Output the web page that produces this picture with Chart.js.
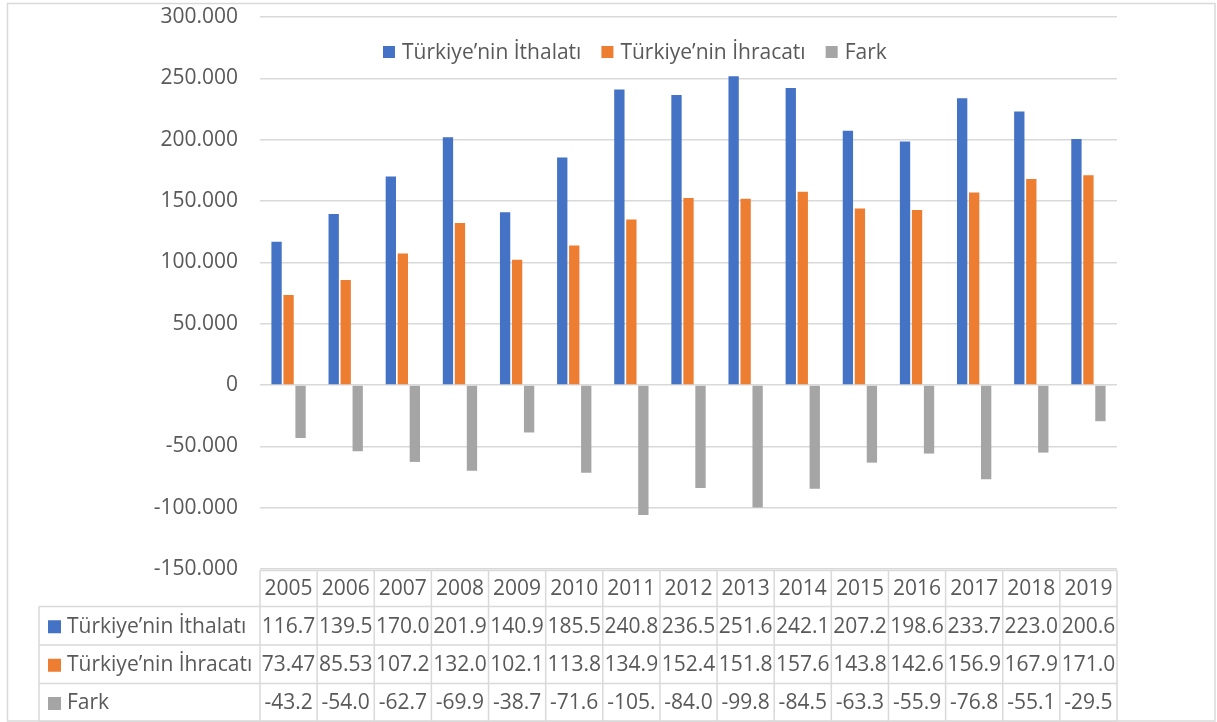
<!DOCTYPE html>
<html>
<head>
<meta charset="utf-8">
<script src="https://cdn.jsdelivr.net/npm/chart.js@4.4.1/dist/chart.umd.min.js"></script>
<style>
html,body{margin:0;padding:0;background:#fff;}
canvas{display:block;}
</style>
</head>
<body>
<canvas id="c" width="1217" height="722"></canvas>
<script>
const years = ['2005','2006','2007','2008','2009','2010','2011','2012','2013','2014','2015','2016','2017','2018','2019'];
const seriesNames = ['Türkiye’nin İthalatı','Türkiye’nin İhracatı','Fark'];
const imports = [116.7,139.5,170.0,201.9,140.9,185.5,240.8,236.5,251.6,242.1,207.2,198.6,233.7,223.0,200.6];
const exportsV = [73.47,85.53,107.2,132.0,102.1,113.8,134.9,152.4,151.8,157.6,143.8,142.6,156.9,167.9,171.0];
const diff = [-43.2,-54.0,-62.7,-69.9,-38.7,-71.6,-105.9,-84.0,-99.8,-84.5,-63.3,-55.9,-76.8,-55.1,-29.5];
const yMin = -150, yMax = 300, yStep = 50;
const colors = ['#4472C4','#ED7D31','#A5A5A5'];

const FONT = '"Open Sans", Roboto, sans-serif';
const FSIZE = 21;
const TXT = '#595959';
const LINE = '#d9d9d9';

function fmtAxis(v){ return v === 0 ? '0' : v.toFixed(3); }
function fmtCell(v){ return v.toFixed(3).slice(0,5); }

const framePlugin = {
  id:'frame',
  beforeDraw(chart){
    const c = chart.ctx;
    c.save();
    c.fillStyle = '#fff';
    c.fillRect(0,0,chart.width,chart.height);
    c.strokeStyle = LINE;
    c.lineWidth = 1.5;
    c.strokeRect(7.5,3.5,1207.5,717.5);
    c.restore();
  }
};

const legendPlugin = {
  id:'customLegend',
  afterDraw(chart){
    const c = chart.ctx, a = chart.chartArea;
    c.save();
    c.font = FSIZE + 'px ' + FONT;
    c.textBaseline = 'middle';
    c.textAlign = 'left';
    let x = a.left + 123;
    const y = a.top + 35;
    seriesNames.forEach((n,i)=>{
      c.fillStyle = colors[i];
      c.fillRect(x, y-6, 12, 12);
      x += 19;
      c.fillStyle = TXT;
      c.fillText(n, x, y+1);
      x += c.measureText(n).width + 20;
    });
    c.restore();
  }
};

const tablePlugin = {
  id:'dataTable',
  afterDraw(chart){
    const c = chart.ctx, a = chart.chartArea, xs = chart.scales.x;
    const n = years.length;
    const colW = (a.right - a.left) / n;
    const top = a.bottom + 1.5;
    const rows = [top, top+36, top+74.5, top+113, top+151];
    const tableLeft = 39;
    c.save();
    c.strokeStyle = LINE;
    c.lineWidth = 1.5;
    c.beginPath();
    c.moveTo(a.left, rows[0]); c.lineTo(a.right, rows[0]);
    for (let r=1;r<rows.length;r++){ c.moveTo(tableLeft, rows[r]); c.lineTo(a.right, rows[r]); }
    for (let i=0;i<=n;i++){
      const x = a.left + i*colW;
      c.moveTo(x, rows[0]); c.lineTo(x, rows[4]);
    }
    c.moveTo(tableLeft, rows[1]); c.lineTo(tableLeft, rows[4]);
    c.stroke();

    c.font = FSIZE + 'px ' + FONT;
    c.fillStyle = TXT;
    c.textBaseline = 'middle';
    c.textAlign = 'center';
    years.forEach((yr,i)=>{
      const cx = xs.getPixelForValue(i);
      c.fillText(yr, cx, (rows[0]+rows[1])/2 + 1);
    });
    const series = [imports, exportsV, diff];
    series.forEach((arr,r)=>{
      const cy = (rows[r+1]+rows[r+2])/2 + 1;
      arr.forEach((v,i)=>{
        const cx = xs.getPixelForValue(i);
        c.fillText(fmtCell(v), cx, cy);
      });
      c.fillStyle = colors[r];
      c.fillRect(48, cy-6.5, 13, 13);
      c.fillStyle = TXT;
      c.textAlign = 'left';
      c.fillText(seriesNames[r], 67, cy);
      c.textAlign = 'center';
    });
    c.restore();
  }
};

new Chart(document.getElementById('c'), {
  type:'bar',
  data:{
    labels: years,
    datasets: [
      {label: seriesNames[0], data: imports, backgroundColor: colors[0]},
      {label: seriesNames[1], data: exportsV, backgroundColor: colors[1]},
      {label: seriesNames[2], data: diff, backgroundColor: colors[2]}
    ]
  },
  options:{
    responsive:false,
    animation:false,
    devicePixelRatio:1,
    layout:{padding:{top:17,left:0,right:100,bottom:0}},
    datasets:{bar:{categoryPercentage:0.63,barPercentage:0.86}},
    plugins:{legend:{display:false},tooltip:{enabled:false}},
    scales:{
      x:{
        grid:{display:false},
        border:{display:false},
        ticks:{display:false},
        afterFit(s){ s.height = 153; s.paddingLeft = 0; s.paddingRight = 0; }
      },
      y:{
        min:yMin, max:yMax,
        ticks:{stepSize:yStep, padding:22, color:TXT, font:{family:FONT,size:FSIZE}, callback:(v)=>fmtAxis(v)},
        grid:{color:LINE, lineWidth:1.5, drawTicks:false},
        border:{display:false},
        afterFit(s){ s.width = 260; s.paddingTop = 0; s.paddingBottom = 0; }
      }
    }
  },
  plugins:[framePlugin, legendPlugin, tablePlugin]
});
</script>
</body>
</html>
